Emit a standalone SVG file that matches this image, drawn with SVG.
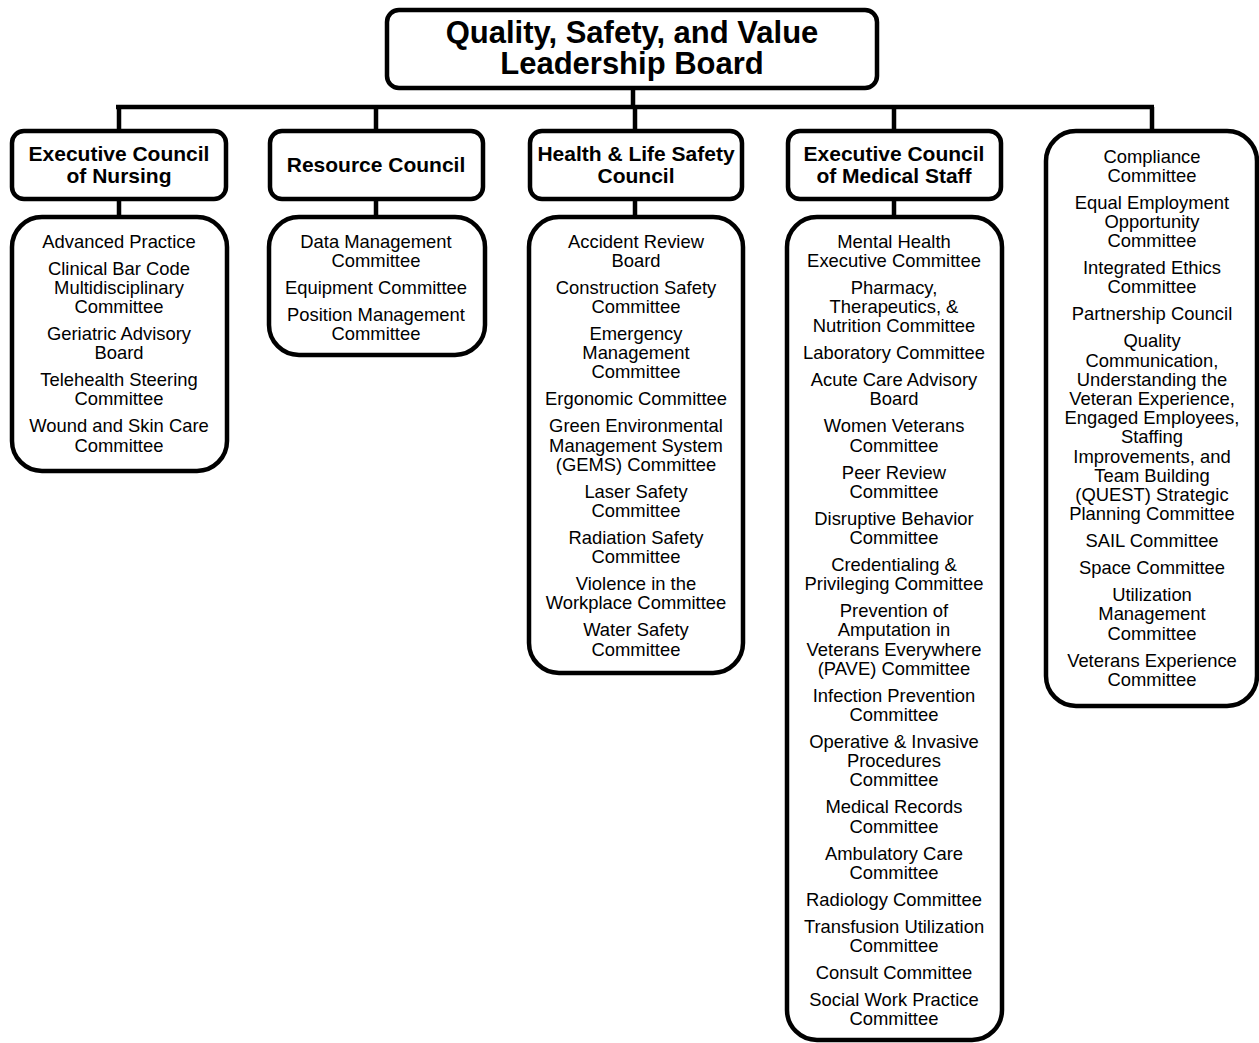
<svg xmlns="http://www.w3.org/2000/svg" width="1259" height="1043" viewBox="0 0 1259 1043">
<style>
.box{fill:#fff;stroke:#000;stroke-width:4.5}
.conn{stroke:#000;stroke-width:4.5;fill:none}
text{font-family:"Liberation Sans",Arial,sans-serif;text-anchor:middle;fill:#000}
.t{font-size:18.4px}
.h{font-size:21px;font-weight:bold}
.title{font-size:31px;font-weight:bold}
</style>
<rect width="1259" height="1043" fill="#fff"/>
<g id="connectors">
<path class="conn" d="M633,88V107M116,107H1154M119,107V131M376,107V131M635,107V131M894,107V131M1152,107V131M119,199V217M376,199V217M635,199V217M894,199V217"/>
</g>
<g id="board">
<rect class="box" x="387" y="10" width="490" height="78" rx="12"/>
<text class="title"><tspan x="632" y="43">Quality, Safety, and Value</tspan><tspan x="632" y="74">Leadership Board</tspan></text>
</g>
<g id="nursing">
<rect class="box" x="12" y="131" width="214" height="68" rx="12"/>
<text class="h"><tspan x="119" y="161">Executive Council</tspan><tspan x="119" y="183">of Nursing</tspan></text>
</g>
<g id="nursing-list">
<rect class="box" x="12" y="217" width="215" height="254" rx="30"/>
<text class="t"><tspan x="119" y="247.5">Advanced Practice</tspan><tspan x="119" y="274.5">Clinical Bar Code</tspan><tspan x="119" y="293.7">Multidisciplinary</tspan><tspan x="119" y="312.9">Committee</tspan><tspan x="119" y="339.9">Geriatric Advisory</tspan><tspan x="119" y="359.1">Board</tspan><tspan x="119" y="386.1">Telehealth Steering</tspan><tspan x="119" y="405.3">Committee</tspan><tspan x="119" y="432.3">Wound and Skin Care</tspan><tspan x="119" y="451.5">Committee</tspan></text>
</g>
<g id="resource">
<rect class="box" x="270" y="131" width="213" height="68" rx="12"/>
<text class="h"><tspan x="376" y="172">Resource Council</tspan></text>
</g>
<g id="resource-list">
<rect class="box" x="269" y="217" width="216" height="138" rx="30"/>
<text class="t"><tspan x="376" y="247.5">Data Management</tspan><tspan x="376" y="266.7">Committee</tspan><tspan x="376" y="293.7">Equipment Committee</tspan><tspan x="376" y="320.7">Position Management</tspan><tspan x="376" y="339.9">Committee</tspan></text>
</g>
<g id="health">
<rect class="box" x="530" y="131" width="212" height="68" rx="12"/>
<text class="h"><tspan x="636" y="161">Health &amp; Life Safety</tspan><tspan x="636" y="183">Council</tspan></text>
</g>
<g id="health-list">
<rect class="box" x="529" y="217" width="214" height="456" rx="30"/>
<text class="t"><tspan x="636" y="247.5">Accident Review</tspan><tspan x="636" y="266.7">Board</tspan><tspan x="636" y="293.7">Construction Safety</tspan><tspan x="636" y="312.9">Committee</tspan><tspan x="636" y="339.9">Emergency</tspan><tspan x="636" y="359.1">Management</tspan><tspan x="636" y="378.3">Committee</tspan><tspan x="636" y="405.3">Ergonomic Committee</tspan><tspan x="636" y="432.3">Green Environmental</tspan><tspan x="636" y="451.5">Management System</tspan><tspan x="636" y="470.7">(GEMS) Committee</tspan><tspan x="636" y="497.7">Laser Safety</tspan><tspan x="636" y="516.9">Committee</tspan><tspan x="636" y="543.9">Radiation Safety</tspan><tspan x="636" y="563.1">Committee</tspan><tspan x="636" y="590.1">Violence in the</tspan><tspan x="636" y="609.3">Workplace Committee</tspan><tspan x="636" y="636.3">Water Safety</tspan><tspan x="636" y="655.5">Committee</tspan></text>
</g>
<g id="medical">
<rect class="box" x="788" y="131" width="213" height="68" rx="12"/>
<text class="h"><tspan x="894" y="161">Executive Council</tspan><tspan x="894" y="183">of Medical Staff</tspan></text>
</g>
<g id="medical-list">
<rect class="box" x="787" y="217" width="215" height="823" rx="30"/>
<text class="t"><tspan x="894" y="247.5">Mental Health</tspan><tspan x="894" y="266.7">Executive Committee</tspan><tspan x="894" y="293.7">Pharmacy,</tspan><tspan x="894" y="312.9">Therapeutics, &amp;</tspan><tspan x="894" y="332.1">Nutrition Committee</tspan><tspan x="894" y="359.1">Laboratory Committee</tspan><tspan x="894" y="386.1">Acute Care Advisory</tspan><tspan x="894" y="405.3">Board</tspan><tspan x="894" y="432.3">Women Veterans</tspan><tspan x="894" y="451.5">Committee</tspan><tspan x="894" y="478.5">Peer Review</tspan><tspan x="894" y="497.7">Committee</tspan><tspan x="894" y="524.7">Disruptive Behavior</tspan><tspan x="894" y="543.9">Committee</tspan><tspan x="894" y="570.9">Credentialing &amp;</tspan><tspan x="894" y="590.1">Privileging Committee</tspan><tspan x="894" y="617.1">Prevention of</tspan><tspan x="894" y="636.3">Amputation in</tspan><tspan x="894" y="655.5">Veterans Everywhere</tspan><tspan x="894" y="674.7">(PAVE) Committee</tspan><tspan x="894" y="701.7">Infection Prevention</tspan><tspan x="894" y="720.9">Committee</tspan><tspan x="894" y="747.9">Operative &amp; Invasive</tspan><tspan x="894" y="767.1">Procedures</tspan><tspan x="894" y="786.3">Committee</tspan><tspan x="894" y="813.3">Medical Records</tspan><tspan x="894" y="832.5">Committee</tspan><tspan x="894" y="859.5">Ambulatory Care</tspan><tspan x="894" y="878.7">Committee</tspan><tspan x="894" y="905.7">Radiology Committee</tspan><tspan x="894" y="932.7">Transfusion Utilization</tspan><tspan x="894" y="951.9">Committee</tspan><tspan x="894" y="978.9">Consult Committee</tspan><tspan x="894" y="1005.9">Social Work Practice</tspan><tspan x="894" y="1025.1">Committee</tspan></text>
</g>
<g id="other-committees">
<rect class="box" x="1046" y="131" width="211" height="575" rx="30"/>
<text class="t"><tspan x="1152" y="162.5">Compliance</tspan><tspan x="1152" y="181.7">Committee</tspan><tspan x="1152" y="208.7">Equal Employment</tspan><tspan x="1152" y="227.9">Opportunity</tspan><tspan x="1152" y="247.1">Committee</tspan><tspan x="1152" y="274.1">Integrated Ethics</tspan><tspan x="1152" y="293.3">Committee</tspan><tspan x="1152" y="320.3">Partnership Council</tspan><tspan x="1152" y="347.3">Quality</tspan><tspan x="1152" y="366.5">Communication,</tspan><tspan x="1152" y="385.7">Understanding the</tspan><tspan x="1152" y="404.9">Veteran Experience,</tspan><tspan x="1152" y="424.1">Engaged Employees,</tspan><tspan x="1152" y="443.3">Staffing</tspan><tspan x="1152" y="462.5">Improvements, and</tspan><tspan x="1152" y="481.7">Team Building</tspan><tspan x="1152" y="500.9">(QUEST) Strategic</tspan><tspan x="1152" y="520.1">Planning Committee</tspan><tspan x="1152" y="547.1">SAIL Committee</tspan><tspan x="1152" y="574.1">Space Committee</tspan><tspan x="1152" y="601.1">Utilization</tspan><tspan x="1152" y="620.3">Management</tspan><tspan x="1152" y="639.5">Committee</tspan><tspan x="1152" y="666.5">Veterans Experience</tspan><tspan x="1152" y="685.7">Committee</tspan></text>
</g>
</svg>
